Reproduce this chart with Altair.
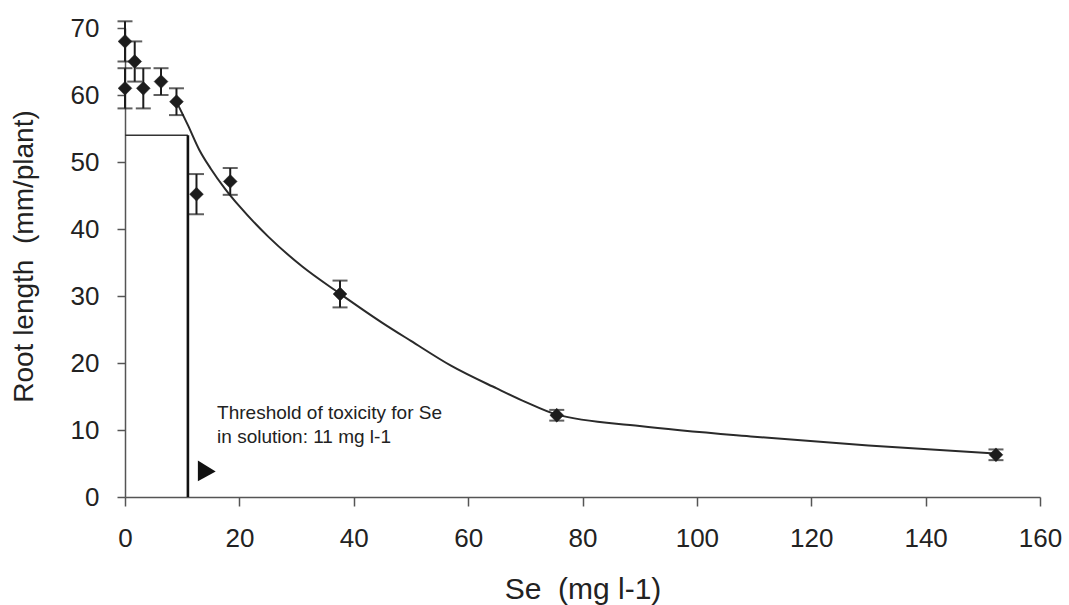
import altair as alt
import pandas as pd

# Measured root length (mean and standard error) at each Se concentration
se_obs = [0, 0, 1.7, 3.2, 6.3, 9, 12.5, 18.4, 37.6, 75.5, 152.3]
root_mean = [68, 61, 65, 61, 62, 59, 45.2, 47.1, 30.3, 12.2, 6.3]
root_err = [3, 3, 3, 3, 2, 2, 3, 2, 2, 0.8, 0.8]

# Fitted response curve beyond the threshold
fit_se = [9, 11, 13, 15, 17.5, 20, 25, 31, 37.5, 45, 50, 57, 65, 70, 75.5, 90, 110, 130, 152.3]
fit_root = [59, 55.5, 51.8, 49.0, 46.0, 43.4, 38.9, 34.4, 30.4, 26.0, 23.3, 19.6, 16.2, 14.2, 12.3, 10.6, 9.0, 7.7, 6.5]

# Toxicity threshold guide lines
threshold_se = 11
threshold_root = 54

# Annotation text and arrow
note_lines = ["Threshold of toxicity for Se", "in solution: 11 mg l-1"]
note_se = [16.1, 16.1]
note_root = [11.6, 8.0]
arrow_se = [14.3]
arrow_root = [3.9]

x_ticks = [0, 20, 40, 60, 80, 100, 120, 140, 160]
y_ticks = [0, 10, 20, 30, 40, 50, 60, 70]

FONT = "Liberation Sans"
INK = "#1c1c1c"

obs = pd.DataFrame({"se": se_obs, "root": root_mean, "err": root_err})
bars = pd.DataFrame({"se": obs["se"], "root": obs["root"] - obs["err"], "root2": obs["root"] + obs["err"]})
caps_lo = pd.DataFrame({"se": obs["se"], "root": obs["root"] - obs["err"]})
caps_hi = pd.DataFrame({"se": obs["se"], "root": obs["root"] + obs["err"]})
fit = pd.DataFrame({"se": fit_se, "root": fit_root})
hline = pd.DataFrame({"se": [0, threshold_se], "root": [threshold_root, threshold_root]})
vline = pd.DataFrame({"se": [threshold_se, threshold_se], "root": [0, threshold_root]})
notes = pd.DataFrame({"se": note_se, "root": note_root, "text": note_lines})
arrow = pd.DataFrame({"se": arrow_se, "root": arrow_root})

xs = alt.Scale(domain=[0, 160], nice=False, zero=False)
ys = alt.Scale(domain=[0, 70], nice=False, zero=False)

x_axis = alt.Axis(
    values=x_ticks, title="Se\u00a0 (mg l-1)", grid=False, labelFlush=False,
    labelFont=FONT, labelFontSize=26, labelColor="#222", labelPadding=19,
    tickSize=9, tickColor="#555", tickWidth=1.5,
    domainColor="#555", domainWidth=1.5,
    titleFont=FONT, titleFontSize=30, titleFontWeight="normal", titleColor="#222",
    titleBaseline="alphabetic", titleY=101,
)
y_axis = alt.Axis(
    values=y_ticks, title="Root length\u00a0 (mm/plant)", grid=False, labelFlush=False,
    labelFont=FONT, labelFontSize=26, labelColor="#222", labelPadding=18,
    tickSize=8, tickColor="#555", tickWidth=1.5,
    domainColor="#555", domainWidth=1.5,
    titleFont=FONT, titleFontSize=28, titleFontWeight="normal", titleColor="#222",
    titleBaseline="alphabetic", titleX=-93, titleY=228, titleAngle=-90,
)

enc = dict(x=alt.X("se:Q", scale=xs), y=alt.Y("root:Q", scale=ys))

curve = alt.Chart(fit).mark_line(stroke="#2a2a2a", strokeWidth=2, interpolate="monotone").encode(
    x=alt.X("se:Q", scale=xs, axis=x_axis), y=alt.Y("root:Q", scale=ys, axis=y_axis)
)

h_rule = alt.Chart(hline).mark_line(stroke="#333", strokeWidth=1.5).encode(**enc)
v_rule = alt.Chart(vline).mark_line(stroke="#111", strokeWidth=2.6).encode(**enc)

err_rule = alt.Chart(bars).mark_rule(stroke=INK, strokeWidth=2).encode(
    x=alt.X("se:Q", scale=xs), y=alt.Y("root:Q", scale=ys), y2="root2:Q"
)
cap_lo = alt.Chart(caps_lo).mark_tick(orient="horizontal", color=INK, size=15, thickness=2).encode(**enc)
cap_hi = alt.Chart(caps_hi).mark_tick(orient="horizontal", color=INK, size=15, thickness=2).encode(**enc)
points = alt.Chart(obs).mark_point(
    shape="M0,-1L1,0L0,1L-1,0Z", size=190, filled=True, fill=INK, opacity=1, stroke=INK, strokeWidth=0.5
).encode(**enc)

note = alt.Chart(notes).mark_text(
    align="left", baseline="alphabetic", font=FONT, fontSize=19, color="#222"
).encode(text="text:N", **enc)

arrow_mark = alt.Chart(arrow).mark_point(
    shape="M-0.85,-1L0.85,0.05L-0.85,1Z", size=440, filled=True, fill="#111", opacity=1
).encode(**enc)

chart = alt.layer(
    curve, h_rule, v_rule, err_rule, cap_lo, cap_hi, points, note, arrow_mark
).properties(
    width=915, height=469,
    padding={"left": 125, "top": 28, "right": 29, "bottom": 108},
    autosize=alt.AutoSizeParams(type="none"),
    background="white",
).configure_view(stroke="transparent", strokeWidth=0)

chart.save("out.html", embed_options={"renderer": "svg", "actions": False})
